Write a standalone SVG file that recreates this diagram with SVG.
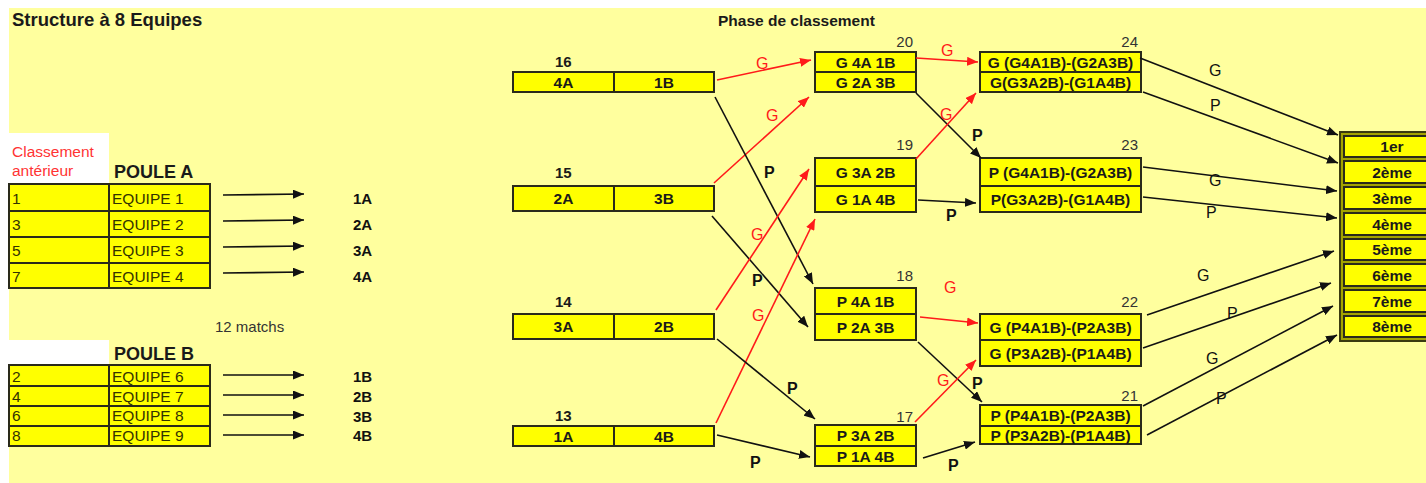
<svg xmlns="http://www.w3.org/2000/svg" width="1426" height="483" viewBox="0 0 1426 483">
<defs>
<marker id="ab" markerUnits="userSpaceOnUse" markerWidth="11" markerHeight="9" refX="11" refY="4.5" orient="auto"><path d="M0,0 L11,4.5 L0,9 z" fill="#111"/></marker>
<marker id="ar" markerUnits="userSpaceOnUse" markerWidth="11" markerHeight="9" refX="11" refY="4.5" orient="auto"><path d="M0,0 L11,4.5 L0,9 z" fill="#ff1a1a"/></marker>
</defs>
<style>
text{font-family:"Liberation Sans",Arial,sans-serif;}
.bx{fill:#ffff00;stroke:#2a2a1a;stroke-width:2;}
.dv{stroke:#2a2a1a;stroke-width:2;}
.bt{font-size:15.5px;font-weight:bold;fill:#1a1a1a;text-anchor:middle;}
.tb{font-size:15.5px;fill:#333300;}
.num{font-size:15px;fill:#333;text-anchor:end;}
.nb{font-size:15px;font-weight:bold;fill:#1a1a1a;}
.lb{font-size:15px;font-weight:bold;fill:#111;}
.lk{stroke:#111;stroke-width:1.6;fill:none;marker-end:url(#ab);}
.lr{stroke:#ff1a1a;stroke-width:1.6;fill:none;marker-end:url(#ar);}
.gr{font-size:16px;fill:#ff1a1a;}
.pk{font-size:16px;font-weight:bold;fill:#111;}
.pn{font-size:16px;fill:#111;}
</style>
<rect x="0" y="0" width="1426" height="483" fill="#ffffff"/>
<rect x="9" y="8" width="1417" height="475" fill="#ffff9e"/>
<rect x="9" y="133" width="100" height="51" fill="#ffffff"/>
<rect x="9" y="340" width="100" height="25" fill="#ffffff"/>

<text x="12" y="26" style="font-size:18.5px;font-weight:bold;fill:#1a1a1a">Structure à 8 Equipes</text>
<text x="718" y="26" style="font-size:15.5px;font-weight:bold;fill:#1a1a1a">Phase de classement</text>

<g id="pouleA">
<text x="12" y="157" style="font-size:15.5px;fill:#ff3333">Classement</text>
<text x="12" y="176" style="font-size:15.5px;fill:#ff3333">antérieur</text>
<text x="114" y="178" style="font-size:18px;font-weight:bold;fill:#1a1a1a">POULE A</text>
<rect class="bx" x="9" y="184" width="201" height="104"/>
<line class="dv" x1="9" y1="211" x2="210" y2="211"/>
<line class="dv" x1="9" y1="237" x2="210" y2="237"/>
<line class="dv" x1="9" y1="263" x2="210" y2="263"/>
<line class="dv" x1="109" y1="184" x2="109" y2="288"/>
<text class="tb" x="12" y="204">1</text><text class="tb" x="112" y="204">EQUIPE 1</text>
<text class="tb" x="12" y="230">3</text><text class="tb" x="112" y="230">EQUIPE 2</text>
<text class="tb" x="12" y="256">5</text><text class="tb" x="112" y="256">EQUIPE 3</text>
<text class="tb" x="12" y="282">7</text><text class="tb" x="112" y="282">EQUIPE 4</text>
</g>

<g id="pouleB">
<text x="215" y="332" style="font-size:15px;fill:#333">12 matchs</text>
<text x="114" y="360" style="font-size:18px;font-weight:bold;fill:#1a1a1a">POULE B</text>
<rect class="bx" x="9" y="365" width="201" height="81"/>
<line class="dv" x1="9" y1="386" x2="210" y2="386"/>
<line class="dv" x1="9" y1="406" x2="210" y2="406"/>
<line class="dv" x1="9" y1="426" x2="210" y2="426"/>
<line class="dv" x1="109" y1="365" x2="109" y2="446"/>
<text class="tb" x="12" y="382">2</text><text class="tb" x="112" y="382">EQUIPE 6</text>
<text class="tb" x="12" y="402">4</text><text class="tb" x="112" y="402">EQUIPE 7</text>
<text class="tb" x="12" y="421">6</text><text class="tb" x="112" y="421">EQUIPE 8</text>
<text class="tb" x="12" y="441">8</text><text class="tb" x="112" y="441">EQUIPE 9</text>
</g>

<g id="seeds">
<text class="lb" x="353" y="204">1A</text>
<text class="lb" x="353" y="230">2A</text>
<text class="lb" x="353" y="256">3A</text>
<text class="lb" x="353" y="282">4A</text>
<text class="lb" x="353" y="382">1B</text>
<text class="lb" x="353" y="402">2B</text>
<text class="lb" x="353" y="422">3B</text>
<text class="lb" x="353" y="441">4B</text>
</g>

<g id="m16"><text class="nb" x="555" y="67">16</text><rect class="bx" x="513" y="72" width="201" height="20"/><line class="dv" x1="614" y1="72" x2="614" y2="92"/><text class="bt" x="563.5" y="87.5">4A</text><text class="bt" x="664" y="87.5">1B</text></g>
<g id="m15"><text class="nb" x="555" y="178">15</text><rect class="bx" x="513" y="186" width="201" height="25"/><line class="dv" x1="614" y1="186" x2="614" y2="211"/><text class="bt" x="563.5" y="204">2A</text><text class="bt" x="664" y="204">3B</text></g>
<g id="m14"><text class="nb" x="555" y="307">14</text><rect class="bx" x="513" y="314" width="201" height="25"/><line class="dv" x1="614" y1="314" x2="614" y2="339"/><text class="bt" x="563.5" y="332">3A</text><text class="bt" x="664" y="332">2B</text></g>
<g id="m13"><text class="nb" x="555" y="421">13</text><rect class="bx" x="513" y="426" width="201" height="20"/><line class="dv" x1="614" y1="426" x2="614" y2="446"/><text class="bt" x="563.5" y="441.5">1A</text><text class="bt" x="664" y="441.5">4B</text></g>

<g id="m20"><text class="num" x="913" y="47">20</text><rect class="bx" x="815" y="52" width="101" height="40"/><line class="dv" x1="815" y1="72" x2="916" y2="72"/><text class="bt" x="865.5" y="67.5">G 4A 1B</text><text class="bt" x="865.5" y="87.5">G 2A 3B</text></g>
<g id="m19"><text class="num" x="913" y="150">19</text><rect class="bx" x="815" y="158" width="101" height="54"/><line class="dv" x1="815" y1="186" x2="916" y2="186"/><text class="bt" x="865.5" y="177.5">G 3A 2B</text><text class="bt" x="865.5" y="204.5">G 1A 4B</text></g>
<g id="m18"><text class="num" x="913" y="281">18</text><rect class="bx" x="815" y="288" width="101" height="52"/><line class="dv" x1="815" y1="314" x2="916" y2="314"/><text class="bt" x="865.5" y="306.5">P 4A 1B</text><text class="bt" x="865.5" y="332.5">P 2A 3B</text></g>
<g id="m17"><text class="num" x="913" y="422">17</text><rect class="bx" x="815" y="425" width="101" height="41"/><line class="dv" x1="815" y1="446" x2="916" y2="446"/><text class="bt" x="865.5" y="441">P 3A 2B</text><text class="bt" x="865.5" y="461.5">P 1A 4B</text></g>

<g id="m24"><text class="num" x="1138" y="47">24</text><rect class="bx" x="980" y="52" width="161" height="40"/><line class="dv" x1="980" y1="72" x2="1141" y2="72"/><text class="bt" x="1060.5" y="67.5">G (G4A1B)-(G2A3B)</text><text class="bt" x="1060.5" y="87.5">G(G3A2B)-(G1A4B)</text></g>
<g id="m23"><text class="num" x="1138" y="150">23</text><rect class="bx" x="980" y="158" width="161" height="54"/><line class="dv" x1="980" y1="186" x2="1141" y2="186"/><text class="bt" x="1060.5" y="177.5">P (G4A1B)-(G2A3B)</text><text class="bt" x="1060.5" y="204.5">P(G3A2B)-(G1A4B)</text></g>
<g id="m22"><text class="num" x="1138" y="307">22</text><rect class="bx" x="980" y="314" width="161" height="52"/><line class="dv" x1="980" y1="340" x2="1141" y2="340"/><text class="bt" x="1060.5" y="332.5">G (P4A1B)-(P2A3B)</text><text class="bt" x="1060.5" y="358.5">G (P3A2B)-(P1A4B)</text></g>
<g id="m21"><text class="num" x="1138" y="401">21</text><rect class="bx" x="980" y="405" width="161" height="39"/><line class="dv" x1="980" y1="426" x2="1141" y2="426"/><text class="bt" x="1060.5" y="421">P (P4A1B)-(P2A3B)</text><text class="bt" x="1060.5" y="440.5">P (P3A2B)-(P1A4B)</text></g>

<g id="final">
<rect x="1340" y="132" width="100" height="209" fill="#a3a300" stroke="#3a3a10" stroke-width="2"/>
<rect class="bx" x="1344" y="136" width="90" height="21"/><text class="bt" x="1392" y="152">1er</text>
<rect class="bx" x="1344" y="161" width="90" height="22"/><text class="bt" x="1392" y="177.5">2ème</text>
<rect class="bx" x="1344" y="187" width="90" height="22"/><text class="bt" x="1392" y="203.5">3ème</text>
<rect class="bx" x="1344" y="213" width="90" height="22"/><text class="bt" x="1392" y="229.5">4ème</text>
<rect class="bx" x="1344" y="239" width="90" height="21"/><text class="bt" x="1392" y="255">5ème</text>
<rect class="bx" x="1344" y="264" width="90" height="22"/><text class="bt" x="1392" y="280.5">6ème</text>
<rect class="bx" x="1344" y="290" width="90" height="22"/><text class="bt" x="1392" y="306.5">7ème</text>
<rect class="bx" x="1344" y="316" width="90" height="21"/><text class="bt" x="1392" y="332">8ème</text>
</g>

<g id="connectors">
<line class="lk" x1="223" y1="195" x2="304" y2="194"/>
<line class="lk" x1="223" y1="221" x2="304" y2="220"/>
<line class="lk" x1="223" y1="247" x2="304" y2="246"/>
<line class="lk" x1="223" y1="273" x2="304" y2="272"/>
<line class="lk" x1="223" y1="375" x2="304" y2="375"/>
<line class="lk" x1="223" y1="395" x2="304" y2="395"/>
<line class="lk" x1="223" y1="415" x2="304" y2="415"/>
<line class="lk" x1="223" y1="435" x2="304" y2="435"/>

<line class="lr" x1="717" y1="80" x2="811" y2="60"/>
<line class="lr" x1="714" y1="183" x2="809" y2="97"/>
<line class="lk" x1="715" y1="97" x2="813" y2="284"/>
<line class="lk" x1="712" y1="216" x2="808" y2="327"/>
<line class="lr" x1="716" y1="310" x2="809" y2="169"/>
<line class="lr" x1="716" y1="423" x2="815" y2="219"/>
<line class="lk" x1="717" y1="339" x2="815" y2="419"/>
<line class="lk" x1="717" y1="435" x2="810" y2="457"/>

<line class="lr" x1="916" y1="58" x2="978" y2="62"/>
<line class="lk" x1="916" y1="93" x2="981" y2="158"/>
<line class="lr" x1="916" y1="159" x2="976" y2="93"/>
<line class="lk" x1="918" y1="200" x2="976" y2="203"/>
<line class="lr" x1="920" y1="317" x2="978" y2="323"/>
<line class="lk" x1="918" y1="342" x2="982" y2="402"/>
<line class="lr" x1="915" y1="422" x2="976" y2="360"/>
<line class="lk" x1="923" y1="458" x2="975" y2="442"/>

<line class="lk" x1="1140" y1="58" x2="1338" y2="135"/>
<line class="lk" x1="1143" y1="92" x2="1338" y2="163"/>
<line class="lk" x1="1143" y1="167" x2="1337" y2="191"/>
<line class="lk" x1="1143" y1="197" x2="1337" y2="218"/>
<line class="lk" x1="1147" y1="315" x2="1334" y2="251"/>
<line class="lk" x1="1143" y1="348" x2="1331" y2="283"/>
<line class="lk" x1="1143" y1="406" x2="1333" y2="306"/>
<line class="lk" x1="1147" y1="435" x2="1337" y2="335"/>

<text class="gr" x="756" y="69">G</text>
<text class="gr" x="766" y="121">G</text>
<text class="pk" x="764" y="178">P</text>
<text class="pk" x="752" y="286">P</text>
<text class="gr" x="751" y="240">G</text>
<text class="gr" x="752" y="321">G</text>
<text class="pk" x="787" y="394">P</text>
<text class="pk" x="750" y="468">P</text>

<text class="gr" x="941" y="56">G</text>
<text class="pk" x="972" y="141">P</text>
<text class="gr" x="940" y="120">G</text>
<text class="pk" x="946" y="221">P</text>
<text class="gr" x="944" y="293">G</text>
<text class="pk" x="972" y="389">P</text>
<text class="gr" x="937" y="386">G</text>
<text class="pk" x="948" y="471">P</text>

<text class="pn" x="1209" y="76">G</text>
<text class="pn" x="1210" y="111">P</text>
<text class="pn" x="1209" y="186">G</text>
<text class="pn" x="1206" y="218">P</text>
<text class="pn" x="1197" y="281">G</text>
<text class="pn" x="1227" y="319">P</text>
<text class="pn" x="1206" y="364">G</text>
<text class="pn" x="1216" y="404">P</text>
</g>
</svg>
